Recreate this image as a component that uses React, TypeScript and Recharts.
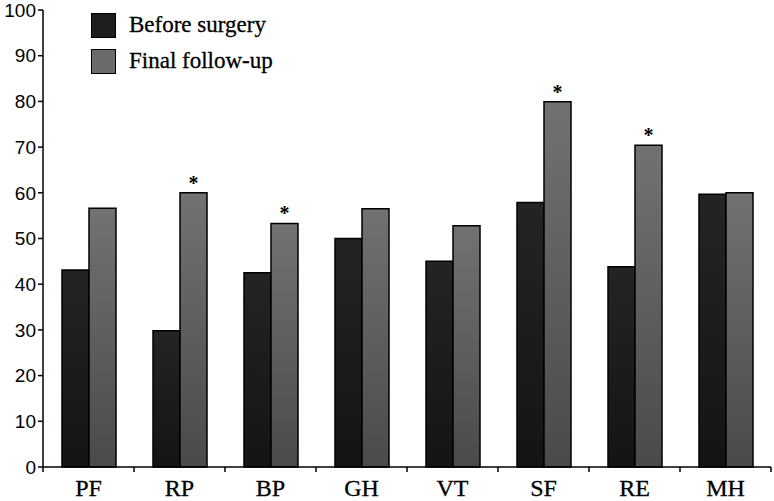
import React from 'react';
import { BarChart, Bar, XAxis, YAxis, LabelList } from 'recharts';

const categories = ['PF', 'RP', 'BP', 'GH', 'VT', 'SF', 'RE', 'MH'];
const beforeSurgery = [43.1, 29.8, 42.5, 50.0, 45.0, 57.9, 43.8, 59.7];
const finalFollowUp = [56.6, 60.0, 53.3, 56.5, 52.8, 79.9, 70.4, 60.0];
const significant = ['', '*', '*', '', '', '*', '*', ''];
const yTicks = [0, 10, 20, 30, 40, 50, 60, 70, 80, 90, 100];

const data = categories.map((name, i) => ({
  name,
  before: beforeSurgery[i],
  final: finalFollowUp[i],
  sig: significant[i],
}));

const SERIF = '"Liberation Serif", "Times New Roman", serif';
const SANS = '"Liberation Sans", Arial, sans-serif';

const CategoryTick = (props: any) => {
  const { x, y, payload, index } = props;
  const half = payload && payload.offset != null ? payload.offset : 45.5;
  return (
    <g>
      <line x1={x - half} x2={x - half} y1={y} y2={y + 5} stroke="#000" strokeWidth={1.5} />
      {index === categories.length - 1 && (
        <line x1={x + half} x2={x + half} y1={y} y2={y + 5} stroke="#000" strokeWidth={1.5} />
      )}
      <text
        x={x}
        y={y + 29}
        textAnchor="middle"
        fontFamily={SERIF}
        fontSize={24}
        fill="#000"
        stroke="#000"
        strokeWidth={0.3}
      >
        {payload.value}
      </text>
    </g>
  );
};

const LegendBox = () => {
  const row = { display: 'flex', alignItems: 'center', height: 26 } as const;
  const box = { display: 'inline-block', width: 23, height: 23, border: '1.5px solid #000', marginRight: 13 };
  return (
    <div
      style={{
        position: 'absolute',
        left: 91,
        top: 12,
        fontFamily: SERIF,
        fontSize: 23,
        color: '#000',
        WebkitTextStroke: '0.3px #000',
        lineHeight: '26px',
      }}
    >
      <div style={{ ...row, marginBottom: 10 }}>
        <span style={{ ...box, background: '#1e1e1e' }} />
        Before surgery
      </div>
      <div style={row}>
        <span style={{ ...box, background: '#6a6a6a' }} />
        Final follow-up
      </div>
    </div>
  );
};

export default function App() {
  return (
    <div style={{ position: 'absolute', left: 0, top: 0, width: 774, height: 501, background: '#fff' }}>
      <BarChart
        width={774}
        height={501}
        data={data}
        margin={{ top: 10, right: 3, bottom: 0, left: 0 }}
        barSize={27}
        barGap={0}
      >
        <defs>
          <linearGradient id="gDark" x1="0" y1="0" x2="0" y2="1">
            <stop offset="0%" stopColor="#242424" />
            <stop offset="100%" stopColor="#141414" />
          </linearGradient>
          <linearGradient id="gGray" x1="0" y1="0" x2="0" y2="1">
            <stop offset="0%" stopColor="#727272" />
            <stop offset="100%" stopColor="#4a4a4a" />
          </linearGradient>
        </defs>
        <XAxis
          dataKey="name"
          height={34}
          axisLine={{ stroke: '#000', strokeWidth: 1.5 }}
          tickLine={false}
          tickSize={0}
          tickMargin={0}
          interval={0}
          tick={<CategoryTick />}
        />
        <YAxis
          width={43}
          domain={[0, 100]}
          ticks={yTicks}
          interval={0}
          axisLine={{ stroke: '#000', strokeWidth: 1.5 }}
          tickLine={{ stroke: '#000', strokeWidth: 1.5 }}
          tickSize={5}
          tickMargin={2}
          tick={{ fill: '#000', fontFamily: SANS, fontSize: 19 }}
        />
        <Bar dataKey="before" name="Before surgery" fill="url(#gDark)" stroke="#000" strokeWidth={1.5} isAnimationActive={false} />
        <Bar dataKey="final" name="Final follow-up" fill="url(#gGray)" stroke="#000" strokeWidth={1.5} isAnimationActive={false}>
          <LabelList dataKey="sig" position="top" offset={3} fill="#000" fontSize={20} fontWeight="bold" fontFamily={SERIF} />
        </Bar>
      </BarChart>
      <LegendBox />
    </div>
  );
}
